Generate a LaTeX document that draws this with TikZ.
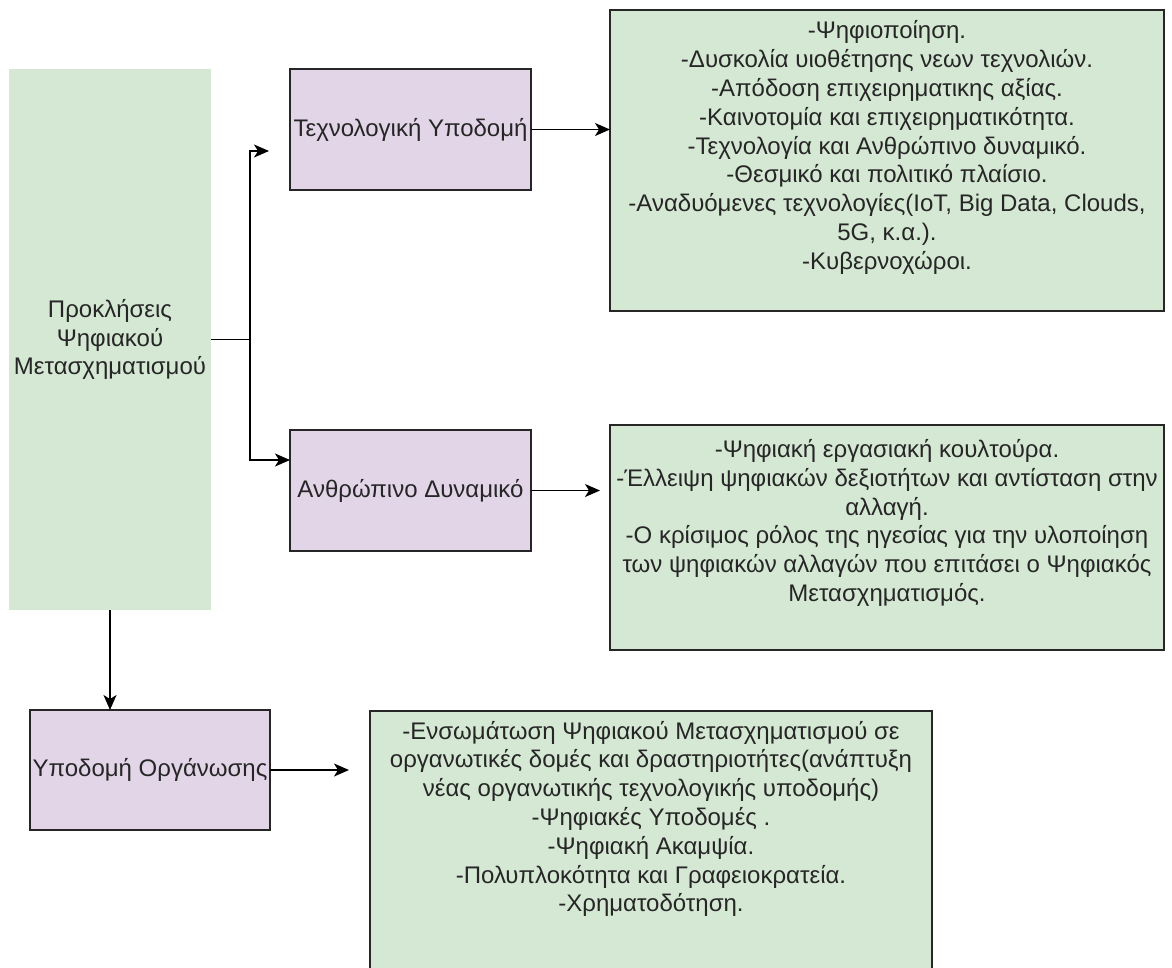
\documentclass[tikz,border=0pt]{standalone}
\usepackage{fontspec}
\setmainfont{Liberation Sans}
\usetikzlibrary{arrows.meta}

\definecolor{boxgreen}{HTML}{D5E8D4}
\definecolor{boxpurple}{HTML}{E1D5E7}

\begin{document}
\begin{tikzpicture}[
  x=1pt, y=-1pt,
  font=\fontsize{24}{28.8}\selectfont,
  every node/.style={inner sep=0pt, outer sep=0pt, align=center, text=black!85},
  topic/.style={draw=black!85, line width=1.5pt, fill=boxpurple, minimum width=241pt, minimum height=121pt},
  listbox/.style={draw=black!85, line width=1.5pt, fill=boxgreen},
  arr/.style={-{Stealth[length=15pt, width=13pt, inset=4pt]}, line width=1.5pt},
]
\clip (0,0) rectangle (1172,967);

% Main challenge column
\node[fill=boxgreen, minimum width=202pt, minimum height=541pt] (main) at (110,339.5) {Προκλήσεις\\Ψηφιακού\\Μετασχηματισμού};

% Three areas
\node[topic] (tech) at (410.5,129.5) {Τεχνολογική Υποδομή};
\node[topic] (human) at (410.5,490.5) {Ανθρώπινο Δυναμικό};
\node[topic, minimum width=240pt, minimum height=120pt] (org) at (150,770) {Υποδομή Οργάνωσης};

% Lists of challenges
\node[listbox, minimum width=554pt, minimum height=301pt] (techbox) at (887,160.5) {};
\node (techtxt) at (887,147.5) {-Ψηφιοποίηση.\\
-Δυσκολία υιοθέτησης νεων τεχνολιών.\\
-Απόδοση επιχειρηματικης αξίας.\\
-Καινοτομία και επιχειρηματικότητα.\\
-Τεχνολογία και Ανθρώπινο δυναμικό.\\
-Θεσμικό και πολιτικό πλαίσιο.\\
-Αναδυόμενες τεχνολογίες(IoT, Big Data, Clouds,\\
5G, κ.α.).\\
-Κυβερνοχώροι.};

\node[listbox, minimum width=554pt, minimum height=225pt] (humbox) at (887,537.5) {};
\node (humtxt) at (887,523) {-Ψηφιακή εργασιακή κουλτούρα.\\
-Έλλειψη ψηφιακών δεξιοτήτων και αντίσταση στην\\
αλλαγή.\\
-Ο κρίσιμος ρόλος της ηγεσίας για την υλοποίηση\\
των ψηφιακών αλλαγών που επιτάσει ο Ψηφιακός\\
Μετασχηματισμός.};

\node[listbox, minimum width=562pt, minimum height=300pt] (orgbox) at (651,861) {};
\node (orgtxt) at (651,819) {-Ενσωμάτωση Ψηφιακού Μετασχηματισμού σε\\
οργανωτικές δομές και δραστηριοτήτες(ανάπτυξη\\
νέας οργανωτικής τεχνολογικής υποδομής)\\
-Ψηφιακές Υποδομές .\\
-Ψηφιακή Ακαμψία.\\
-Πολυπλοκότητα και Γραφειοκρατεία.\\
-Χρηματοδότηση.};

% Branch from the main column
\coordinate (split) at (250,339.5);
\coordinate (ttip) at (269,151);
\coordinate (hin) at ([yshift=30.5pt]human.west);
\draw[line width=1.5pt] (main.east) -- (split);
\draw[arr] (split) |- (ttip);
\draw[arr] (split) |- (hin);
\draw[arr] (main.south) -- (main.south |- org.north);

% Arrows to the lists
\draw[arr] (tech.east) -- (tech.east -| techbox.west);
\draw[arr, shorten >=10pt] (human.east) -- (human.east -| humbox.west);
\draw[arr, shorten >=21pt] (org.east) -- (org.east -| orgbox.west);

\end{tikzpicture}
\end{document}
